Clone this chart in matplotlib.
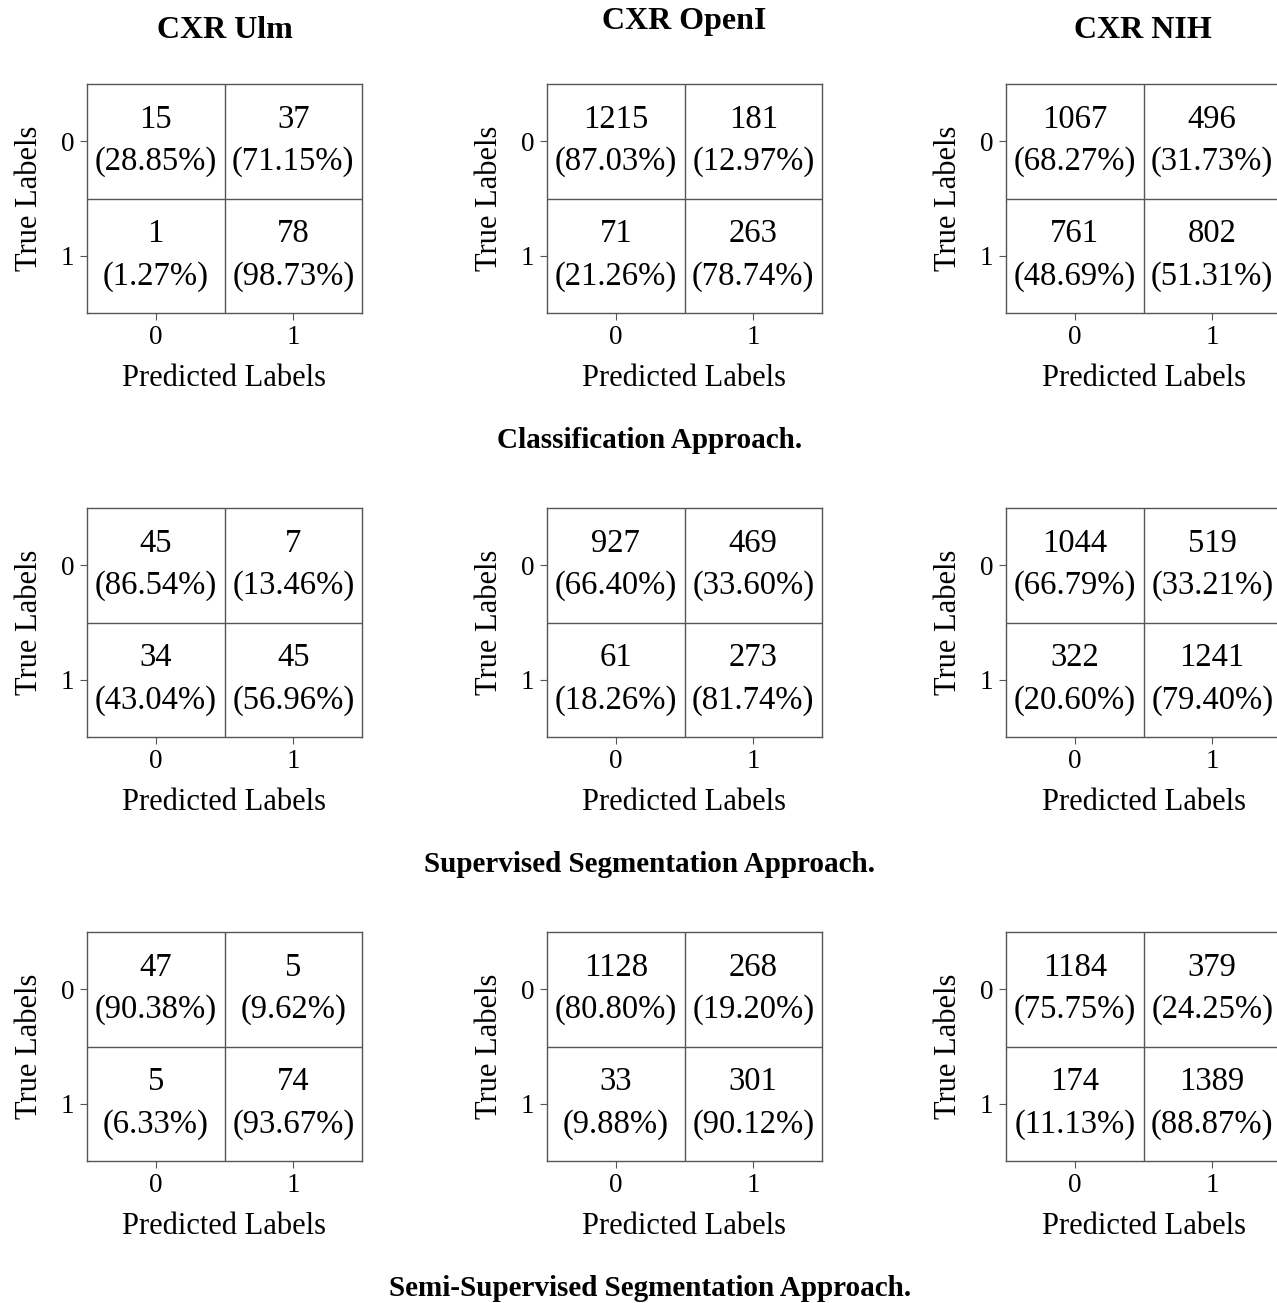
import numpy as np
import matplotlib.pyplot as plt

plt.rcParams['font.family'] = ['Liberation Serif', 'DejaVu Serif']

datasets = ['CXR Ulm', 'CXR OpenI', 'CXR NIH']
approaches = ['Classification Approach.',
              'Supervised Segmentation Approach.',
              'Semi-Supervised Segmentation Approach.']

# confusion matrices [[TN, FP], [FN, TP]] per dataset
cls_counts = [[[15, 37], [1, 78]],
              [[1215, 181], [71, 263]],
              [[1067, 496], [761, 802]]]
sup_counts = [[[45, 7], [34, 45]],
              [[927, 469], [61, 273]],
              [[1044, 519], [322, 1241]]]
semi_counts = [[[47, 5], [5, 74]],
               [[1128, 268], [33, 301]],
               [[1184, 379], [174, 1389]]]
all_counts = [cls_counts, sup_counts, semi_counts]

W, H = 1277, 1303
fig = plt.figure(figsize=(W / 100, H / 100), dpi=100)

col_left = [87, 547, 1006]
row_top = [84, 508, 932]
aw, ah = 275, 229
line_col = '#555555'

for r in range(3):
    for c in range(3):
        cm = np.array(all_counts[r][c])
        pct = cm / cm.sum(axis=1, keepdims=True) * 100
        ax = fig.add_axes([col_left[c] / W, 1 - (row_top[r] + ah) / H, aw / W, ah / H])
        ax.set_xlim(-0.5, 1.5)
        ax.set_ylim(1.5, -0.5)
        ax.axhline(0.5, color=line_col, lw=1)
        ax.axvline(0.5, color=line_col, lw=1)
        for s in ax.spines.values():
            s.set_color(line_col)
            s.set_linewidth(1)
        for i in range(2):
            for j in range(2):
                ax.text(j, i - 0.19, '%d' % cm[i, j], ha='center', va='center', fontsize=23.5)
                ax.text(j, i + 0.18, '(%.2f%%)' % pct[i, j], ha='center', va='center', fontsize=23.5)
        ax.set_xticks([0, 1])
        ax.set_yticks([0, 1])
        ax.tick_params(labelsize=19.5, length=5, color=line_col, pad=4)
        ax.set_xlabel('Predicted Labels', fontsize=22, labelpad=10)
        ax.set_ylabel('True Labels', fontsize=22, labelpad=12)

title_pos = [(225, 30), (684, 22), (1143, 30)]
for name, (x, y) in zip(datasets, title_pos):
    fig.text(x / W, 1 - y / H, name, ha='center', va='center', fontsize=23, fontweight='bold')

cap_y = [441, 865, 1289]
for name, y in zip(approaches, cap_y):
    fig.text(650 / W, 1 - y / H, name, ha='center', va='center', fontsize=21, fontweight='bold')

fig.savefig('out.png', dpi=100)
